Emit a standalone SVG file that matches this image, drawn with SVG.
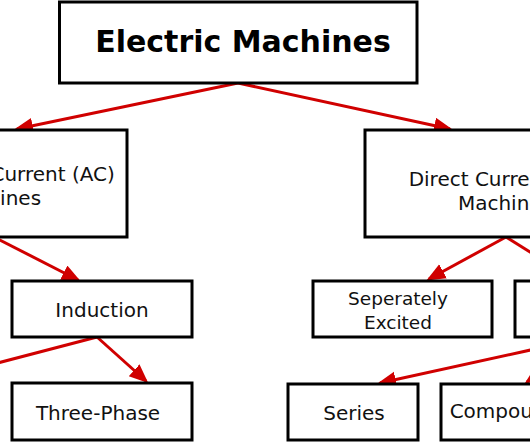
<svg xmlns="http://www.w3.org/2000/svg" width="530" height="443" viewBox="0 0 530 443">
<defs>
<style>
.box{fill:#ffffff;stroke:#000000;stroke-width:3}
.t{font-family:"DejaVu Sans","Liberation Sans",sans-serif;font-size:20px;fill:#111111;text-anchor:middle}
.s{font-size:18.5px}
.title{font-family:"DejaVu Sans","Liberation Sans",sans-serif;font-size:30px;font-weight:bold;fill:#000000;text-anchor:middle}
.c{stroke:#d00000;stroke-width:3;fill:none;marker-end:url(#ah)}
</style>
<marker id="ah" markerUnits="userSpaceOnUse" markerWidth="20" markerHeight="18" refX="16" refY="8" orient="auto">
<path d="M0,0 L19,8 L0,16 z" fill="#d00000"/>
</marker>
</defs>
<rect width="530" height="443" fill="#ffffff"/>
<g id="connectors">
<line class="c" x1="238" y1="83" x2="17" y2="129"/>
<line class="c" x1="238" y1="83" x2="450" y2="129"/>
<line class="c" x1="-6" y1="237" x2="78" y2="280"/>
<line class="c" x1="97" y1="337" x2="146" y2="381"/>
<line class="c" x1="97" y1="337" x2="-60" y2="378"/>
<line class="c" x1="506" y1="237" x2="429" y2="279"/>
<line class="c" x1="506" y1="237" x2="576" y2="281"/>
<line class="c" x1="590" y1="337" x2="380" y2="383"/>
<line class="c" x1="590" y1="337" x2="527" y2="382"/>
</g>
<g id="electric-machines">
<rect class="box" x="59.5" y="2" width="357.5" height="81"/>
<text class="title" x="243" y="52">Electric Machines</text>
</g>
<g id="ac-machines">
<rect class="box" x="-139" y="130" width="266" height="107"/>
<text class="t" x="-6" y="181">Alternating Current (AC)</text>
<text class="t" x="-6" y="205">Machines</text>
</g>
<g id="dc-machines">
<rect class="box" x="365" y="130" width="280" height="107"/>
<text class="t" x="505" y="186">Direct Current (DC)</text>
<text class="t" x="505" y="210">Machines</text>
</g>
<g id="induction">
<rect class="box" x="12" y="281" width="180" height="56"/>
<text class="t" x="102" y="317">Induction</text>
</g>
<g id="three-phase">
<rect class="box" x="12" y="383" width="180" height="57"/>
<text class="t" x="98" y="420">Three-Phase</text>
</g>
<g id="seperately-excited">
<rect class="box" x="313" y="281" width="179" height="56"/>
<text class="t s" x="398" y="305">Seperately</text>
<text class="t s" x="398" y="329">Excited</text>
</g>
<g id="self-excited">
<rect class="box" x="515" y="281" width="150" height="56"/>
</g>
<g id="series">
<rect class="box" x="288" y="384" width="130" height="56"/>
<text class="t" x="354" y="420">Series</text>
</g>
<g id="compound">
<rect class="box" x="441" y="384" width="130" height="56"/>
<text class="t" x="504" y="418">Compound</text>
</g>
</svg>
